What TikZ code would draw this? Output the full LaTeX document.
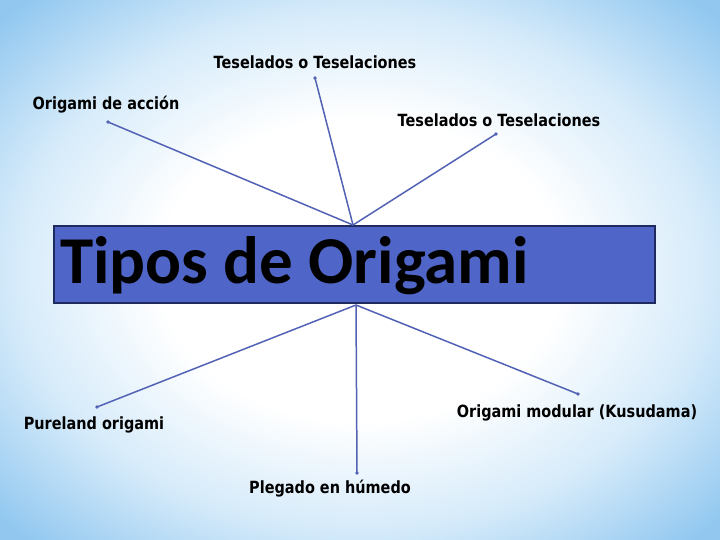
\documentclass[tikz,border=0pt]{standalone}
\usepackage{fontspec}
\setmainfont{DejaVu Sans}
\newfontfamily\labfont[FakeStretch=0.86]{DejaVu Sans}
\newfontfamily\titlefont{Carlito}
\definecolor{bgedge}{HTML}{92C8F0}
\definecolor{bgmid}{HTML}{D6EBFA}
\definecolor{boxfill}{HTML}{4F66C8}
\definecolor{boxline}{HTML}{1F2A5E}
\definecolor{linkcol}{HTML}{5262B4}
\pgfdeclareradialshading{bgshade}{\pgfpoint{0bp}{0bp}}{color(0bp)=(white); color(14bp)=(white); color(24bp)=(bgmid); color(34bp)=(bgedge); color(50bp)=(bgedge)}
\tikzset{
  lab/.style={inner sep=0pt, font=\labfont\bfseries\fontsize{16.8}{18}\selectfont, text=black},
  link/.style={draw=linkcol, line width=1.5pt},
  tip/.style={fill=linkcol, circle, inner sep=0pt, minimum size=3.8pt},
}
\begin{document}
\begin{tikzpicture}[x=1pt,y=-1pt]
\useasboundingbox (0,0) rectangle (720,540);
\shade[shading=bgshade] (0,0) rectangle (720,540);
% title box
\node[draw=boxline, line width=1.2pt, fill=boxfill, minimum width=601pt, minimum height=77pt, inner sep=0pt] (box) at (354.5,264.5) {};
\node[anchor=west, inner sep=0pt, font=\titlefont\bfseries\fontsize{67}{69}\selectfont, text=black] (title) at (60,266) {Tipos de Origami};
% hubs
\coordinate (hubt) at (353,225);
\coordinate (hubb) at (356,305);
% labels
\node[lab] (t1) at (315,62) {Teselados o Teselaciones};
\node[lab] (t2) at (106,105) {Origami de acción};
\node[lab] (t3) at (499,120) {Teselados o Teselaciones};
\node[lab] (b1) at (94,425) {Pureland origami};
\node[lab] (b2) at (330,489) {Plegado en húmedo};
\node[lab] (b3) at (577,413) {Origami modular (Kusudama)};
% link ends
\coordinate (e1) at (315,78);
\coordinate (e2) at (108,122);
\coordinate (e3) at (496,134);
\coordinate (e4) at (97,407);
\coordinate (e5) at (357,473);
\coordinate (e6) at (578,394);
\foreach \e in {e1,e2,e3} { \draw[link] (hubt) -- (\e); \node[tip] at (\e) {}; }
\foreach \e in {e4,e5,e6} { \draw[link] (hubb) -- (\e); \node[tip] at (\e) {}; }
\end{tikzpicture}
\end{document}
